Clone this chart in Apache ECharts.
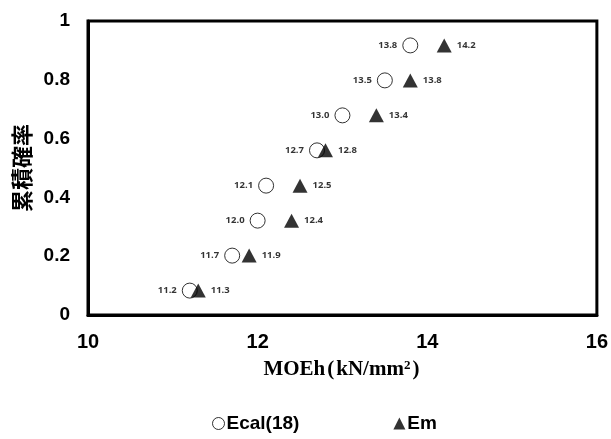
<!DOCTYPE html>
<html>
<head>
<meta charset="utf-8">
<script src="https://cdn.jsdelivr.net/npm/echarts@6/dist/echarts.min.js"></script>
<style>
  html, body { margin: 0; padding: 0; background: #fff; }
  #chart { width: 611px; height: 439px; }
</style>
</head>
<body>
<div id="chart"></div>
<script>
// Cumulative probability (median rank) for each of the 8 specimens
const probability = [0.083, 0.202, 0.321, 0.440, 0.560, 0.679, 0.798, 0.917];
// Calculated modulus Ecal(18), kN/mm2
const ecalValues = [11.2, 11.7, 12.0, 12.1, 12.7, 13.0, 13.5, 13.8];
// Measured modulus Em, kN/mm2
const emValues = [11.3, 11.9, 12.4, 12.5, 12.8, 13.4, 13.8, 14.2];
const xTicks = [10, 12, 14, 16];
const yTicks = [0, 0.2, 0.4, 0.6, 0.8, 1];
const seriesNames = ['Ecal(18)', 'Em'];

const chart = echarts.init(document.getElementById('chart'), null, { renderer: 'canvas' });

const pointLabelFont = {
  fontFamily: '"Open Sans", "Liberation Sans", sans-serif',
  fontWeight: 'bold',
  fontSize: 9.5,
  color: '#000'
};

const ecalData = ecalValues.map((v, i) => [v, probability[i]]);
const emData = emValues.map((v, i) => [v, probability[i]]);

chart.setOption({
  animation: false,
  backgroundColor: '#fff',
  grid: {
    left: 88, right: 14, top: 21, bottom: 124,
    show: true, borderColor: '#000', borderWidth: 3, backgroundColor: 'transparent'
  },
  legend: {
    bottom: 1,
    left: 207,
    itemGap: 94,
    itemWidth: 12,
    itemHeight: 12,
    textStyle: {
      fontFamily: '"Liberation Sans", Arial, sans-serif',
      fontWeight: 'bold',
      fontSize: 19,
      color: '#000',
      padding: [0, 0, 0, -3]
    },
    data: [
      { name: seriesNames[0], icon: 'circle', itemStyle: { color: '#fff', borderColor: '#000', borderWidth: 1 } },
      { name: seriesNames[1], icon: 'triangle', itemStyle: { color: '#000' } }
    ]
  },
  xAxis: {
    type: 'value',
    min: xTicks[0], max: xTicks[xTicks.length - 1], interval: 2,
    name: '{b|MOEh}{p|(}{b|kN/mm}{s|2}{p|)}',
    nameLocation: 'middle',
    nameGap: 44,
    nameTextStyle: {
      rich: {
        b: { fontFamily: '"Liberation Serif", "Times New Roman", serif', fontWeight: 'bold', fontSize: 21, color: '#000' },
        p: { fontFamily: '"Liberation Serif", serif', fontWeight: 'bold', fontSize: 21, color: '#000', padding: [0, 2, 0, 2] },
        s: { fontFamily: '"Liberation Serif", serif', fontWeight: 'bold', fontSize: 13, color: '#000', verticalAlign: 'top', padding: [0, 0, 9, 0] }
      }
    },
    axisLine: { show: true, onZero: false, lineStyle: { color: '#000', width: 3 } },
    axisTick: { show: false },
    splitLine: { show: false },
    axisLabel: {
      margin: 17,
      fontFamily: '"Liberation Sans", Arial, sans-serif',
      fontWeight: 'bold',
      fontSize: 20,
      color: '#000'
    }
  },
  yAxis: {
    type: 'value',
    min: yTicks[0], max: yTicks[yTicks.length - 1], interval: 0.2,
    name: '累積確率',
    nameLocation: 'middle',
    nameRotate: 90,
    nameGap: 54,
    nameTextStyle: {
      fontFamily: '"Noto Sans CJK JP", sans-serif',
      fontWeight: 'bold',
      fontSize: 22,
      color: '#000'
    },
    axisLine: { show: true, onZero: false, lineStyle: { color: '#000', width: 3 } },
    axisTick: { show: false },
    splitLine: { show: false },
    axisLabel: {
      margin: 18,
      fontFamily: '"Liberation Sans", Arial, sans-serif',
      fontWeight: 'bold',
      fontSize: 19,
      color: '#000',
      formatter: v => String(+v.toFixed(1))
    }
  },
  series: [
    {
      name: seriesNames[0],
      type: 'scatter',
      symbol: 'circle',
      symbolSize: 15,
      itemStyle: { color: '#fff', borderColor: '#000', borderWidth: 1 },
      label: {
        show: true, position: 'left', distance: 5,
        formatter: p => p.value[0].toFixed(1),
        ...pointLabelFont
      },
      data: ecalData,
      z: 2
    },
    {
      name: seriesNames[1],
      type: 'scatter',
      symbol: 'triangle',
      symbolSize: [15, 14],
      itemStyle: { color: '#000' },
      label: {
        show: true, position: 'right', distance: 5,
        formatter: p => p.value[0].toFixed(1),
        ...pointLabelFont
      },
      data: emData,
      z: 3
    }
  ]
});
</script>
</body>
</html>
